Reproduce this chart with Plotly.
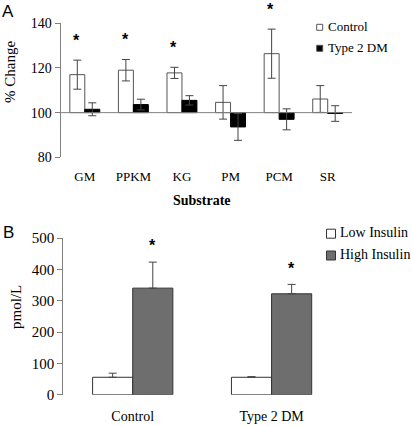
import plotly.graph_objects as go

# ---------------- data ----------------
substrates = ["GM", "PPKM", "KG", "PM", "PCM", "SR"]
control_pct = [117.0, 119.0, 117.8, 104.6, 126.4, 106.1]
control_err = [6.5, 4.8, 2.5, 7.5, 11.0, 6.0]
dm_pct = [101.5, 103.6, 105.5, 93.6, 97.0, 99.6]
dm_err = [2.9, 2.4, 2.1, 6.0, 4.7, 3.5]
signif_A = [True, True, True, False, True, False]
yticks_A = [80, 100, 120, 140]

groups_B = ["Control", "Type 2 DM"]
low_insulin = [55.6, 55.6]
low_err = [13.0, 2.0]
high_insulin = [340.0, 322.0]
high_err = [83.0, 30.0]
signif_B = [True, True]
yticks_B = [0, 100, 200, 300, 400, 500]

W, H = 412, 426
def px(x):
    return x / W
def py(y):
    return 1 - y / H

SERIF = "Liberation Serif"
SANS = "Liberation Sans"
AX = "#808080"
ERR = "#444444"

# axis geometry (paper fractions)
XA_DOM = [px(60.5), px(352)]
YA_DOM = [py(157.3), py(23.3)]
YA_RANGE = [80, 140]
XA_RANGE = [-0.5, 5.5]
XB_DOM = [px(63.3), px(341)]
YB_DOM = [py(394.7), py(238)]
YB_RANGE = [0, 500]
XB_RANGE = [-0.5, 1.5]

def to_paper(v, rng, dom):
    return dom[0] + (v - rng[0]) / (rng[1] - rng[0]) * (dom[1] - dom[0])

def ann(x, y, text, font, **kw):
    d = dict(x=x, y=y, xref="paper", yref="paper", text=text, showarrow=False,
             xanchor="center", yanchor="middle", font=font)
    d.update(kw)
    return d

fig = go.Figure()

# ---------------- Panel A ----------------
BW_A = 0.308
fig.add_trace(go.Bar(
    x=substrates, y=[v - 100 for v in control_pct], base=100,
    width=BW_A, offset=-BW_A,
    marker=dict(color="white", line=dict(color="#555555", width=1)),
    error_y=dict(type="data", array=control_err, color=ERR, thickness=1, width=4),
    xaxis="x", yaxis="y", showlegend=False, name="Control"))
fig.add_trace(go.Bar(
    x=substrates, y=[v - 100 for v in dm_pct], base=100,
    width=BW_A, offset=0,
    marker=dict(color="black", line=dict(color="black", width=1)),
    error_y=dict(type="data", array=dm_err, color=ERR, thickness=1, width=4),
    xaxis="x", yaxis="y", showlegend=False, name="Type 2 DM"))

# ---------------- Panel B ----------------
BW_B = 0.289
fig.add_trace(go.Bar(
    x=groups_B, y=low_insulin, width=BW_B, offset=-BW_B,
    marker=dict(color="white", line=dict(color="#333333", width=1)),
    error_y=dict(type="data", symmetric=False, array=low_err,
                 arrayminus=[0] * len(low_err), color=ERR, thickness=1, width=4),
    xaxis="x2", yaxis="y2", showlegend=False, name="Low Insulin"))
fig.add_trace(go.Bar(
    x=groups_B, y=high_insulin, width=BW_B, offset=0,
    marker=dict(color="#6e6e6e", line=dict(color="#333333", width=1)),
    error_y=dict(type="data", symmetric=False, array=high_err,
                 arrayminus=[0] * len(high_err), color=ERR, thickness=1, width=4),
    xaxis="x2", yaxis="y2", showlegend=False, name="High Insulin"))

annotations = []
shapes = []
STAR_FONT = dict(family=SANS, size=16, color="black")

# stars A
for i, (v, e, s) in enumerate(zip(control_pct, control_err, signif_A)):
    if s:
        annotations.append(ann(to_paper(i - 0.17, XA_RANGE, XA_DOM),
                               to_paper(v + e + 8.8, YA_RANGE, YA_DOM),
                               "<b>*</b>", STAR_FONT))
# stars B
for i, (v, e, s) in enumerate(zip(high_insulin, high_err, signif_B)):
    if s:
        annotations.append(ann(to_paper(i + BW_B / 2, XB_RANGE, XB_DOM),
                               to_paper(v + e + 52, YB_RANGE, YB_DOM),
                               "<b>*</b>", STAR_FONT))

# baseline at 100 in panel A
shapes.append(dict(type="line", xref="x domain", yref="y", x0=0, x1=1, y0=100, y1=100,
                   line=dict(color=AX, width=1), layer="above"))

# titles & labels
annotations += [
    ann(px(8), py(11.5), "A", dict(family=SANS, size=17, color="black")),
    ann(px(8.5), py(232.5), "B", dict(family=SANS, size=17, color="black")),
    ann(px(10), py(72), "% Change", dict(family=SERIF, size=15, color="black"),
        textangle=-90),
    ann(px(16), py(307), "pmol/L", dict(family=SERIF, size=15, color="black"),
        textangle=-90),
    ann(px(202), py(200.7), "<b>Substrate</b>", dict(family=SERIF, size=14, color="black")),
]

# custom legends
legA = [("Control", "white", 27.3), ("Type 2 DM", "black", 48.3)]
for name, col, yc in legA:
    shapes.append(dict(type="rect", xref="paper", yref="paper",
                       x0=px(316.7), x1=px(322.7), y0=py(yc + 3), y1=py(yc - 3),
                       fillcolor=col, line=dict(color="#555555", width=1)))
    annotations.append(ann(px(326), py(yc - 1), name,
                           dict(family=SERIF, size=13, color="black"), xanchor="left"))
legB = [("Low Insulin", "white", 233.7), ("High Insulin", "#6e6e6e", 255.5)]
for name, col, yc in legB:
    shapes.append(dict(type="rect", xref="paper", yref="paper",
                       x0=px(326.5), x1=px(335.5), y0=py(yc + 4.5), y1=py(yc - 4.5),
                       fillcolor=col, line=dict(color="#333333", width=1)))
    annotations.append(ann(px(338.3), py(yc - 1), name,
                           dict(family=SERIF, size=14, color="black"), xanchor="left"))

fig.update_layout(
    template="none",
    width=W, height=H, margin=dict(l=0, r=0, t=0, b=0, pad=0),
    paper_bgcolor="white", plot_bgcolor="white",
    font=dict(family=SERIF, color="black"),
    barmode="overlay",
    annotations=annotations, shapes=shapes,
    xaxis=dict(domain=XA_DOM, anchor="y", type="category", automargin=False,
               range=XA_RANGE, showline=False, showgrid=False, zeroline=False,
               ticks="outside", ticklen=7, tickcolor="rgba(0,0,0,0)",
               tickfont=dict(family=SERIF, size=13, color="black")),
    yaxis=dict(domain=YA_DOM, anchor="x", range=YA_RANGE, automargin=False,
               tickvals=yticks_A, showline=True, linecolor=AX, linewidth=1,
               ticks="outside", ticklen=5, tickcolor=AX, showgrid=False, zeroline=False,
               tickfont=dict(family=SERIF, size=14, color="black")),
    xaxis2=dict(domain=XB_DOM, anchor="y2", type="category", automargin=False,
                range=XB_RANGE, showline=False, showgrid=False, zeroline=False,
                ticks="outside", ticklen=8, tickcolor="rgba(0,0,0,0)",
                tickfont=dict(family=SERIF, size=14, color="black")),
    yaxis2=dict(domain=YB_DOM, anchor="x2", range=YB_RANGE, automargin=False,
                tickvals=yticks_B, showline=True, linecolor=AX, linewidth=1,
                ticks="outside", ticklen=5, tickcolor=AX, showgrid=False, zeroline=False,
                tickfont=dict(family=SERIF, size=15, color="black")),
)

fig.write_html("out.html", config={"displayModeBar": False},
               post_script="document.body.style.margin='0px';document.body.style.overflow='hidden';")
